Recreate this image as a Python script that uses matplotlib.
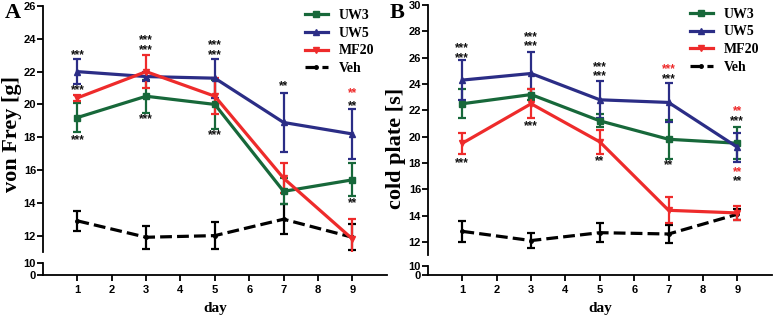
import numpy as np
import matplotlib.pyplot as plt

days = [1, 3, 5, 7, 9]
series = ['UW3', 'UW5', 'MF20', 'Veh']

# von Frey [g]
vf_mean = {
    'UW3':  [19.2, 20.5, 20.0, 14.7, 15.4],
    'UW5':  [22.0, 21.7, 21.6, 18.9, 18.2],
    'MF20': [20.4, 22.0, 20.5, 15.5, 11.8],
    'Veh':  [12.9, 11.9, 12.0, 13.0, 11.9],
}
vf_err = {
    'UW3':  [0.9, 1.0, 1.5, 0.8, 1.0],
    'UW5':  [0.75, 0.3, 1.2, 1.8, 1.5],
    'MF20': [0.2, 1.0, 1.1, 0.9, 1.2],
    'Veh':  [0.6, 0.7, 0.8, 0.9, 0.8],
}

# cold plate [s]
cp_mean = {
    'UW3':  [22.5, 23.2, 21.2, 19.8, 19.5],
    'UW5':  [24.3, 24.8, 22.8, 22.6, 19.2],
    'MF20': [19.5, 22.5, 19.6, 14.4, 14.2],
    'Veh':  [12.8, 12.1, 12.7, 12.6, 14.1],
}
cp_err = {
    'UW3':  [1.1, 0.4, 0.5, 1.5, 1.2],
    'UW5':  [1.5, 1.6, 1.4, 1.5, 1.1],
    'MF20': [0.8, 1.1, 0.9, 1.0, 0.5],
    'Veh':  [0.8, 0.6, 0.7, 0.7, 0.4],
}

# significance marks: (day, y, text, colour)
vf_stars = [(1, 23.0, '***', 'k'), (1, 20.9, '***', 'k'), (1, 17.8, '***', 'k'),
            (3, 23.9, '***', 'k'), (3, 23.3, '***', 'k'), (3, 19.1, '***', 'k'),
            (5, 23.6, '***', 'k'), (5, 23.0, '***', 'k'), (5, 18.1, '***', 'k'),
            (7, 21.1, '**', 'k'),
            (9, 20.7, '**', 'r'), (9, 19.9, '**', 'k'), (9, 14.0, '**', 'k')]
cp_stars = [(1, 26.7, '***', 'k'), (1, 26.0, '***', 'k'), (1, 18.0, '***', 'k'),
            (3, 27.6, '***', 'k'), (3, 26.9, '***', 'k'), (3, 20.8, '***', 'k'),
            (5, 25.3, '***', 'k'), (5, 24.6, '***', 'k'), (5, 18.1, '**', 'k'),
            (7, 25.1, '***', 'r'), (7, 24.4, '***', 'k'), (7, 17.8, '**', 'k'),
            (9, 21.9, '**', 'r'), (9, 21.2, '***', 'k'), (9, 17.3, '**', 'r'), (9, 16.6, '**', 'k')]

colors = {'UW3': '#17683a', 'UW5': '#2b2d86', 'MF20': '#ee2b2b', 'Veh': '#000000'}
markers = {'UW3': 's', 'UW5': '^', 'MF20': 'v', 'Veh': '.'}
star_col = {'k': '#111111', 'r': '#ee2b2b'}

serif = 'Liberation Serif'
sans = 'Liberation Sans'

fig = plt.figure(figsize=(7.74, 3.18), dpi=100)


def panel(x0, top_up, bot_up, top_lo, ymax, ylabel, lab_xy, letter, let_x,
          mean, err, stars, yticks):
    w = 0.444
    bot_lo = 0.135
    # broken y axis: big upper part + short 0-10 stub
    ax = fig.add_axes([x0, bot_up, w, top_up - bot_up])
    lo = fig.add_axes([x0, bot_lo, w, top_lo - bot_lo])
    handles = []
    for s in series:
        ls = '--' if s == 'Veh' else '-'
        c = ax.errorbar(days, mean[s], yerr=err[s], color=colors[s], lw=2.3, ls=ls,
                        marker=markers[s], ms=5, capsize=3, elinewidth=1.6, capthick=1.6,
                        zorder=3 if s != 'Veh' else 2)
        handles.append(c.lines[0])
    for d, y, t, c in stars:
        ax.text(d, y, t, ha='center', va='center', fontsize=8.5, fontweight='bold',
                color=star_col[c], family=sans)
    ax.set_xlim(0, 10)
    ax.set_ylim(11, ymax)
    ax.set_yticks(yticks)
    ax.set_xticks([])
    for sp in ['top', 'right', 'bottom']:
        ax.spines[sp].set_visible(False)
    ax.spines['left'].set_linewidth(1.3)
    ax.tick_params(axis='y', width=1.3, length=4, labelsize=8, pad=1)
    for lab in ax.get_yticklabels():
        lab.set_fontweight('bold')
        lab.set_family(sans)
    ax.patch.set_alpha(0)

    lo.set_xlim(0, 10)
    lo.set_ylim(0, 10)
    lo.set_yticks([0, 10])
    lo.set_xticks(range(1, 10))
    for sp in ['top', 'right']:
        lo.spines[sp].set_visible(False)
    lo.spines['left'].set_linewidth(1.3)
    lo.spines['bottom'].set_linewidth(1.3)
    lo.tick_params(width=1.3, length=4, labelsize=8, pad=1)
    lo.tick_params(axis='x', pad=3)
    for lab in lo.get_yticklabels() + lo.get_xticklabels():
        lab.set_fontweight('bold')
        lab.set_family(sans)
    lo.set_xlabel('day', family=serif, fontweight='bold', fontsize=11, labelpad=5)
    lo.patch.set_alpha(0)

    fig.text(lab_xy[0], lab_xy[1], ylabel, rotation=90, ha='center',
             va='center', family=serif, fontweight='bold', fontsize=16)
    fig.text(let_x, 0.958, letter, ha='center', va='center', family=serif,
             fontweight='bold', fontsize=16)

    ax.legend(handles, series, loc='upper right', bbox_to_anchor=(1.0, 1.04), frameon=False,
              handlelength=1.6, handletextpad=0.8, labelspacing=0.35,
              prop={'family': serif, 'weight': 'bold', 'size': 10})
    return ax


panel(0.0556, 0.981, 0.2075, 0.173, 26, 'von Frey [g]', (0.015, 0.58), 'A', 0.016,
      vf_mean, vf_err, vf_stars, range(12, 27, 2))
panel(0.553, 0.984, 0.198, 0.164, 30, 'cold plate [s]', (0.511, 0.534), 'B', 0.513,
      cp_mean, cp_err, cp_stars, range(12, 31, 2))

fig.savefig('out.png', dpi=100)
